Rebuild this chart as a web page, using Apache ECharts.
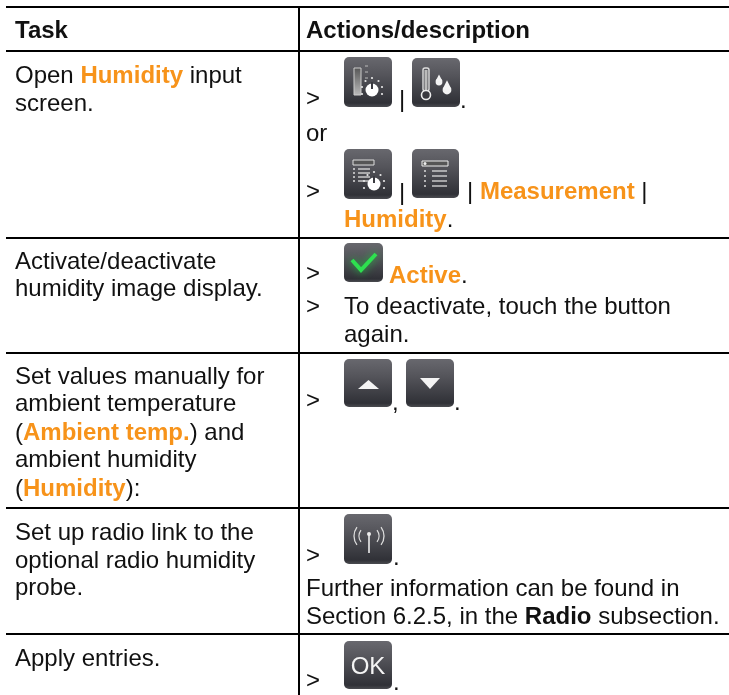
<!DOCTYPE html>
<html lang="en">
<head>
<meta charset="utf-8">
<title>Humidity table</title>
<script src="https://cdn.jsdelivr.net/npm/echarts@6/dist/echarts.min.js"></script>
<style>html,body{margin:0;padding:0;background:#fff}</style>
</head>
<body>
<div id="main" style="width:729px;height:695px;"></div>
<script type="text/javascript">
// table content
var headers = ['Task', 'Actions/description'];
var taskLines = [
    'Open {o|Humidity} input', 'screen.',
    'Activate/deactivate', 'humidity image display.',
    'Set values manually for', 'ambient temperature', '({o|Ambient temp.}) and', 'ambient humidity', '({o|Humidity}):',
    'Set up radio link to the', 'optional radio humidity', 'probe.',
    'Apply entries.'
];
var actionLines = [
    '>', '|', '.', 'or', '>', '|', '| {o|Measurement} |', '{o|Humidity}.',
    '>', '{o|Active}.', '>', 'To deactivate, touch the button', 'again.',
    '>', ',', '.',
    '>', '.', 'Further information can be found in', 'Section 6.2.5, in the {b|Radio} subsection.',
    '>', '.'
];
var icons = ['dial', 'thermo', 'listDial', 'list', 'check', 'up', 'down', 'radio', 'ok'];

// layout, same order as the lists above
var taskPos = [76, 104, 262, 289, 377, 404, 433, 460, 489, 533, 561, 588, 659];
var actionPos = [
    [306, 99], [399, 100], [460, 101], [306, 134], [306, 192], [399, 193], [467, 192], [344, 220],
    [306, 274], [389, 276], [306, 307], [344, 307], [344, 335],
    [306, 401], [392, 403], [454, 403],
    [306, 556], [393, 558], [306, 589], [306, 617],
    [306, 681], [393, 683]
];
var iconPos = [
    [344, 57, 48, 50], [412, 58, 48, 49], [344, 149, 48, 50], [412, 149, 47, 49], [344, 243, 39, 39],
    [344, 359, 48, 48], [406, 359, 48, 48], [344, 514, 48, 50], [344, 641, 48, 48]
];
var hLines = [7, 51, 238, 353, 508, 634];

var FONT = '"Liberation Sans", Arial, sans-serif';
var ORANGE = '#f7931a';
var TEXT_SIZE = 24;
var g = [];

function addText(x, y, str, size, bold) {
    g.push({
        type: 'text', x: x, y: y, silent: true,
        style: {
            text: str, fill: '#111', font: (bold ? 'bold ' : '') + size + 'px ' + FONT,
            verticalAlign: 'middle', align: 'left',
            rich: {
                o: { fill: ORANGE, font: 'bold ' + size + 'px ' + FONT },
                b: { fill: '#111', font: 'bold ' + size + 'px ' + FONT }
            }
        }
    });
}
function line(x1, y1, x2, y2, w, col, cap) {
    g.push({ type: 'line', silent: true, shape: { x1: x1, y1: y1, x2: x2, y2: y2 },
        style: { stroke: col || '#000', lineWidth: w, lineCap: cap || 'butt' } });
}
function disc(cx, cy, r, col) {
    g.push({ type: 'circle', silent: true, shape: { cx: cx, cy: cy, r: r }, style: { fill: col || '#fff' } });
}
function knob(x, y) {
    disc(x, y, 6.5);
    line(x, y - 8, x, y - 1, 2, '#3a3a40');
    [[-10, -3], [-6.5, -9], [0, -12], [6.5, -9], [10, -3], [-10, 4], [10, 4]].forEach(function (d) {
        disc(x + d[0], y + d[1], 1.1, '#e8e8e8');
    });
}
function tri(pts) {
    g.push({ type: 'polygon', silent: true, shape: { points: pts }, style: { fill: '#f4f4f4' } });
}
function listRows(x, y, off, w, n, gap) {
    for (var i = 0; i < n; i++) {
        disc(x, y + i * gap, 1, '#ddd');
        line(x + off, y + i * gap, x + off + w, y + i * gap, 1.3, '#ddd');
    }
}
function drawIcon(name, p) {
    var x = p[0], y = p[1], w = p[2], h = p[3];
    g.push({
        type: 'rect', silent: true, shape: { x: x, y: y, width: w, height: h, r: 5 },
        style: {
            fill: new echarts.graphic.LinearGradient(0, 0, 0, 1, [
                { offset: 0, color: '#68686e' }, { offset: 0.35, color: '#55555b' },
                { offset: 0.92, color: '#303137' }, { offset: 1, color: '#4a4b50' }
            ])
        }
    });
    if (name === 'dial') {
        g.push({ type: 'rect', silent: true, shape: { x: x + 10, y: y + 11, width: 7, height: 27 },
            style: { fill: new echarts.graphic.LinearGradient(0, 0, 0, 1, [{ offset: 0, color: '#555' }, { offset: 1, color: '#bbb' }]), stroke: '#ccc', lineWidth: 1 } });
        [9, 15, 21].forEach(function (d) { line(x + 21, y + d, x + 24, y + d, 1, '#bbb'); });
        knob(x + 28, y + 33);
    } else if (name === 'thermo') {
        g.push({ type: 'rect', silent: true, shape: { x: x + 11, y: y + 10, width: 6, height: 23, r: 2 }, style: { fill: 'none', stroke: '#ddd', lineWidth: 1.4 } });
        line(x + 14, y + 12, x + 14, y + 32, 3, '#bbb');
        g.push({ type: 'circle', silent: true, shape: { cx: x + 14, cy: y + 37, r: 4.5 }, style: { fill: '#3a3a40', stroke: '#eee', lineWidth: 1.6 } });
        [[27, 24, 3.4], [35, 32, 4.4]].forEach(function (d) {
            disc(x + d[0], y + d[1], d[2], '#f2f2f2');
            tri([[x + d[0] - d[2], y + d[1] - 1], [x + d[0], y + d[1] - d[2] * 2.2], [x + d[0] + d[2], y + d[1] - 1]]);
        });
    } else if (name === 'listDial') {
        g.push({ type: 'rect', silent: true, shape: { x: x + 9, y: y + 11, width: 21, height: 5 }, style: { fill: '#555', stroke: '#ddd', lineWidth: 1 } });
        listRows(x + 10, y + 20, 4, 12, 4, 4);
        knob(x + 30, y + 35);
    } else if (name === 'list') {
        g.push({ type: 'rect', silent: true, shape: { x: x + 10, y: y + 12, width: 26, height: 5 }, style: { fill: '#555', stroke: '#eee', lineWidth: 1 } });
        disc(x + 13, y + 14.5, 1.5, '#eee');
        listRows(x + 13, y + 22, 7, 15, 4, 5);
    } else if (name === 'check') {
        g.push({ type: 'polyline', silent: true, shape: { points: [[x + 8, y + 17], [x + 17, y + 27], [x + 32, y + 11]] },
            style: { stroke: '#2ee04f', lineWidth: 4, fill: 'none', shadowBlur: 8, shadowColor: '#25c045' } });
    } else if (name === 'up') {
        tri([[x + 14, y + 30], [x + 35, y + 30], [x + 24.5, y + 21]]);
    } else if (name === 'down') {
        tri([[x + 14, y + 19], [x + 34, y + 19], [x + 24, y + 30]]);
    } else if (name === 'radio') {
        var cx = x + 25, cy = y + 22;
        line(cx, cy - 2, cx, cy + 17, 1.6, '#eee');
        disc(cx, cy - 2, 2, '#eee');
        [10, 15].forEach(function (r) {
            g.push({ type: 'arc', silent: true, shape: { cx: cx, cy: cy, r: r, startAngle: -0.64, endAngle: 0.64 }, style: { stroke: '#ddd', fill: 'none', lineWidth: 1.3 } });
            g.push({ type: 'arc', silent: true, shape: { cx: cx, cy: cy, r: r, startAngle: Math.PI - 0.64, endAngle: Math.PI + 0.64 }, style: { stroke: '#ddd', fill: 'none', lineWidth: 1.3 } });
        });
    } else if (name === 'ok') {
        g.push({ type: 'text', x: x + 24, y: y + 26, silent: true, style: { text: 'OK', fill: '#f4f4f4', font: '24px ' + FONT, align: 'center', verticalAlign: 'middle' } });
    }
}

hLines.forEach(function (y) { line(6, y, 729, y, 2.2); });
line(299, 7, 299, 695, 2);
addText(15, 31, headers[0], TEXT_SIZE, true);
addText(306, 31, headers[1], TEXT_SIZE, true);
taskLines.forEach(function (t, i) { addText(15, taskPos[i], t, TEXT_SIZE); });
actionLines.forEach(function (t, i) { addText(actionPos[i][0], actionPos[i][1], t, TEXT_SIZE); });
icons.forEach(function (n, i) { drawIcon(n, iconPos[i]); });

var myChart = echarts.init(document.getElementById('main'));
myChart.setOption({ animation: false, graphic: { elements: g } });
</script>
</body>
</html>
